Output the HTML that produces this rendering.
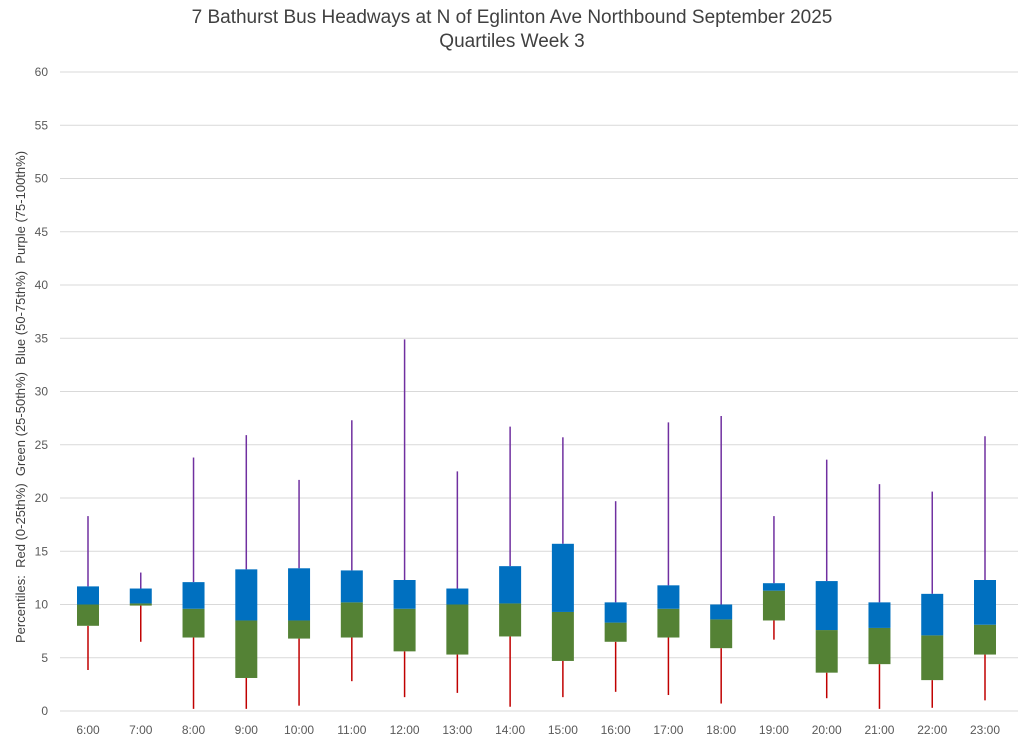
<!DOCTYPE html>
<html><head><meta charset="utf-8"><style>
body{margin:0;background:#fff;}
svg text{font-family:"Liberation Sans",sans-serif;}
</style></head><body>
<svg id="chart" width="1024" height="746" xmlns="http://www.w3.org/2000/svg">
<text x="512" y="23" text-anchor="middle" font-size="19" fill="#404040">7 Bathurst Bus Headways at N of Eglinton Ave Northbound September 2025</text>
<text x="512" y="47" text-anchor="middle" font-size="19" fill="#404040">Quartiles Week 3</text>
<text xml:space="preserve" style="white-space:pre" transform="translate(25,397) rotate(-90)" text-anchor="middle" font-size="13" fill="#404040">Percentiles:  Red (0-25th%)  Green (25-50th%)  Blue (50-75th%)  Purple (75-100th%)</text>
<g id="grid"></g><g id="marks"></g><g id="labels"></g>
</svg>
<script>
const categories=["6:00","7:00","8:00","9:00","10:00","11:00","12:00","13:00","14:00","15:00","16:00","17:00","18:00","19:00","20:00","21:00","22:00","23:00"];
const minVals=[3.85,6.5,0.2,0.2,0.5,2.8,1.3,1.7,0.4,1.3,1.8,1.5,0.7,6.7,1.2,0.2,0.3,1.0];
const q1Vals=[8.0,9.9,6.9,3.1,6.8,6.9,5.6,5.3,7.0,4.7,6.5,6.9,5.9,8.5,3.6,4.4,2.9,5.3];
const medVals=[10.0,10.1,9.6,8.5,8.5,10.2,9.6,10.0,10.1,9.3,8.3,9.6,8.6,11.3,7.6,7.8,7.1,8.1];
const q3Vals=[11.7,11.5,12.1,13.3,13.4,13.2,12.3,11.5,13.6,15.7,10.2,11.8,10.0,12.0,12.2,10.2,11.0,12.3];
const maxVals=[18.3,13.0,23.8,25.9,21.7,27.3,34.9,22.5,26.7,25.7,19.7,27.1,27.7,18.3,23.6,21.3,20.6,25.8];
const yTicks=[0,5,10,15,20,25,30,35,40,45,50,55,60];
const NS="http://www.w3.org/2000/svg";
const y=v=>711-v*(639/60);
const x=i=>88+i*(897/17);
function mk(t,a,p){const e=document.createElementNS(NS,t);for(const k in a)e.setAttribute(k,a[k]);document.getElementById(p).appendChild(e);return e;}
yTicks.forEach(t=>{
 const l=mk("line",{x1:60,x2:1018,y1:y(t),y2:y(t),stroke:"#d9d9d9","stroke-width":1},"grid");
 
 
 const tx=mk("text",{x:48,y:y(t)+4,"text-anchor":"end","font-size":12,fill:"#595959"},"labels");
 tx.textContent=t;
 
 
});
const bw=22;
categories.forEach((c,i)=>{
 const cx=x(i);
 const r=mk("line",{x1:cx,x2:cx,y1:y(minVals[i]),y2:y(q1Vals[i]),stroke:"#C00000","stroke-width":1.5},"marks");
 
 
 const p=mk("line",{x1:cx,x2:cx,y1:y(q3Vals[i]),y2:y(maxVals[i]),stroke:"#7030A0","stroke-width":1.5},"marks");
 
 
 const g=mk("rect",{x:cx-bw/2,width:bw,y:y(medVals[i]),height:y(q1Vals[i])-y(medVals[i]),fill:"#548235"},"marks");
 
 
 const b=mk("rect",{x:cx-bw/2,width:bw,y:y(q3Vals[i]),height:y(medVals[i])-y(q3Vals[i]),fill:"#0070C0"},"marks");
 
 
 const t=mk("text",{x:cx,y:734,"text-anchor":"middle","font-size":12,fill:"#595959"},"labels");
 t.textContent=c;
 
 
});
</script>
</body></html>
